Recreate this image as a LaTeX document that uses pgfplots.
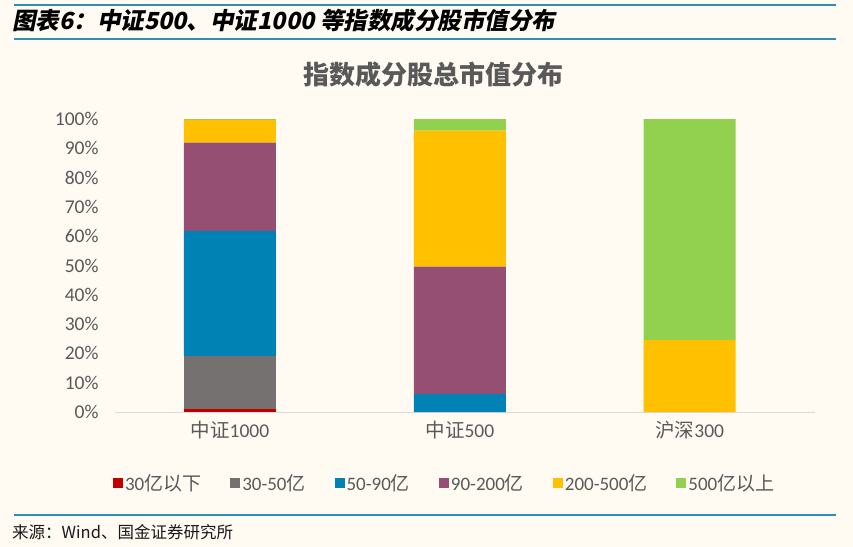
\documentclass[border=0pt]{standalone}
\usepackage{pgfplots}
\pgfplotsset{compat=1.18}
\usepackage{fontspec}
\setmainfont{Carlito}
\newfontfamily\cjk{Noto Sans CJK SC}
\newfontfamily\cjkhead[FakeSlant=0.2]{Noto Sans CJK SC}
\definecolor{bg}{RGB}{255,250,242}
\definecolor{hline}{RGB}{47,143,176}
\definecolor{txt}{RGB}{89,89,89}
\definecolor{cred}{RGB}{192,0,0}
\definecolor{cgray}{RGB}{118,113,113}
\definecolor{cblue}{RGB}{0,131,180}
\definecolor{cpurple}{RGB}{149,79,114}
\definecolor{cyellow}{RGB}{255,192,0}
\definecolor{cgreen}{RGB}{146,208,80}
\begin{document}
\begin{tikzpicture}
\fill[bg] (0bp,0bp) rectangle (853bp,-547bp);
\useasboundingbox (0bp,0bp) rectangle (853bp,-547bp);
\draw[hline, line width=2.2bp] (14bp,-5bp) -- (836bp,-5bp);
\draw[hline, line width=2.2bp] (14bp,-39bp) -- (836bp,-39bp);
\draw[hline, line width=2.2bp] (14bp,-515bp) -- (836bp,-515bp);
\node[anchor=west, inner sep=0pt, text=black] at (12bp,-21bp) {\cjkhead\bfseries\fontsize{23.5bp}{27bp}\selectfont 图表6：中证500、中证1000 等指数成分股市值分布};
\node[anchor=west, inner sep=0pt, text=black!90] at (12bp,-532bp) {\cjk\fontsize{16.5bp}{19bp}\selectfont 来源：Wind、国金证券研究所};
\node[inner sep=0pt, text=txt] at (433bp,-75bp) {\cjk\bfseries\fontsize{26bp}{30bp}\selectfont 指数成分股总市值分布};
\begin{axis}[
  at={(115bp,-412bp)}, anchor=south west,
  scale only axis, width=700bp, height=293bp,
  ybar stacked, bar width=92bp,
  xmin=-0.5, xmax=2.545, ymin=0, ymax=100,
  axis x line*=bottom, axis y line*=left,
  x axis line style={draw={rgb,255:red,217;green,217;blue,217}, line width=1bp, -},
  y axis line style={draw=none},
  xtick={0,1,2}, xticklabels={{\cjk 中证}1000,{\cjk 中证}500,{\cjk 沪深}300},
  ytick={0,10,...,100},
  yticklabel={\pgfmathprintnumber{\tick}\%},
  /pgf/number format/assume math mode=true,
  tick style={draw=none},
  ticklabel style={text=txt, font=\fontsize{19.5bp}{22bp}\selectfont},
  yticklabel style={xshift=-13bp},
  xticklabel style={yshift=-6bp},
  legend style={at={(0.471,-0.242)}, anchor=center, draw=none, fill=none,
    text=txt, font=\fontsize{19bp}{22bp}\selectfont,
    /tikz/every even column/.append style={column sep=27bp}},
  legend columns=6,
  legend image code/.code={\fill[#1] (0bp,-5bp) rectangle (10bp,5bp);},
]
\addplot[fill=cred, draw=none] coordinates {(0,1.0) (1,0) (2,0)};
\addplot[fill=cgray, draw=none] coordinates {(0,18.2) (1,0) (2,0)};
\addplot[fill=cblue, draw=none] coordinates {(0,42.6) (1,6.1) (2,0)};
\addplot[fill=cpurple, draw=none] coordinates {(0,30.1) (1,43.5) (2,0)};
\addplot[fill=cyellow, draw=none] coordinates {(0,7.8) (1,46.4) (2,24.6)};
\addplot[fill=cgreen, draw=none] coordinates {(0,0.3) (1,4.0) (2,75.4)};
\legend{30{\cjk 亿以下},30-50{\cjk 亿},50-90{\cjk 亿},90-200{\cjk 亿},200-500{\cjk 亿},500{\cjk 亿以上}}
\end{axis}
\end{tikzpicture}
\end{document}
